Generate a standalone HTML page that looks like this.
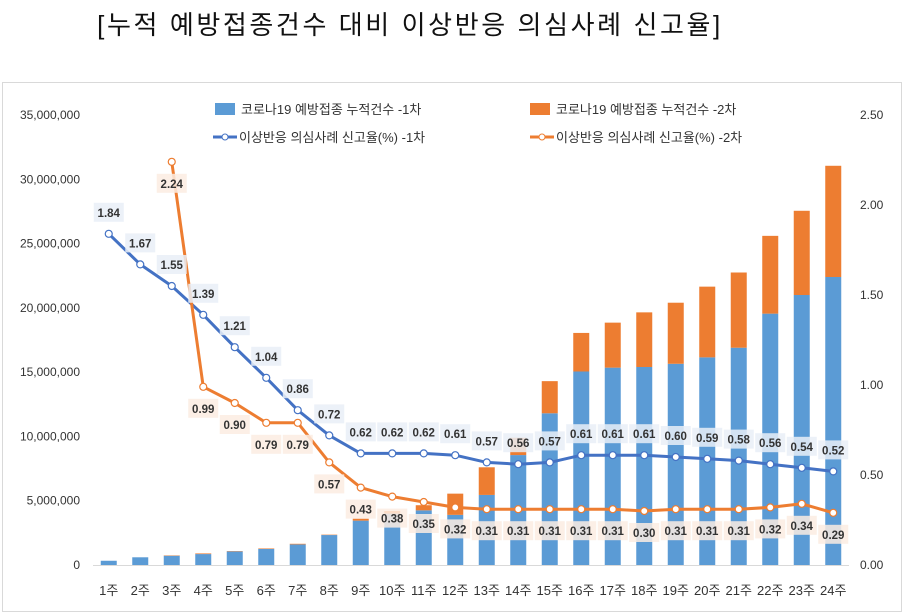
<!DOCTYPE html>
<html><head><meta charset="utf-8">
<style>
body{margin:0;background:#fff;width:905px;height:615px;overflow:hidden;font-family:"Liberation Sans","Noto Sans CJK KR",sans-serif;}
#title{position:absolute;left:0;width:820px;top:5px;text-align:center;font-size:26px;color:#111;font-family:"Liberation Sans","Noto Sans CJK KR",sans-serif;letter-spacing:2.6px;}
#frame{position:absolute;left:2px;top:82px;width:898px;height:528px;border:1.5px solid #d9d9d9;}
svg{position:absolute;left:0;top:0;}
</style></head><body>
<div id="title">[누적 예방접종건수 대비 이상반응 의심사례 신고율]</div>
<div id="frame"></div>
<svg id="chart" width="905" height="615"></svg>
<script>
const categories=["1주","2주","3주","4주","5주","6주","7주","8주","9주","10주","11주","12주","13주","14주","15주","16주","17주","18주","19주","20주","21주","22주","23주","24주"];
const dose1Counts=[330000,600000,720000,850000,1050000,1250000,1600000,2330000,3450000,4000000,4250000,3900000,5450000,8550000,11800000,15050000,15350000,15400000,15650000,16150000,16900000,19550000,21000000,22400000];
const dose2Counts=[0,0,30000,50000,30000,40000,50000,30000,150000,200000,400000,1650000,2150000,1350000,2500000,3000000,3500000,4250000,4750000,5500000,5850000,6050000,6550000,8650000];
const rate1=[1.84,1.67,1.55,1.39,1.21,1.04,0.86,0.72,0.62,0.62,0.62,0.61,0.57,0.56,0.57,0.61,0.61,0.61,0.60,0.59,0.58,0.56,0.54,0.52];
const rate2=[null,null,2.24,0.99,0.90,0.79,0.79,0.57,0.43,0.38,0.35,0.32,0.31,0.31,0.31,0.31,0.31,0.30,0.31,0.31,0.31,0.32,0.34,0.29];
const leftTicks=[0,5000000,10000000,15000000,20000000,25000000,30000000,35000000];
const rightTicks=[0,0.5,1.0,1.5,2.0,2.5];

const NS="http://www.w3.org/2000/svg";
const svg=document.getElementById('chart');
const X0=93,X1=849,Y0=565,Y1=115;
const band=(X1-X0)/categories.length;
const xc=i=>X0+band*(i+0.5);
const yL=v=>Y0-(v/35000000)*(Y0-Y1);
const yR=v=>Y0-(v/2.5)*(Y0-Y1);
function mk(tag,attrs,parent){const e=document.createElementNS(NS,tag);for(const k in attrs)e.setAttribute(k,attrs[k]);(parent||svg).appendChild(e);return e;}

leftTicks.forEach(v=>{
  const t=mk('text',{x:80,y:yL(v)+4,'text-anchor':'end','font-size':12,fill:'#333'});
  t.textContent=v===0?'0':v.toLocaleString('en-US');
  
  
});
rightTicks.forEach(v=>{
  const t=mk('text',{x:860,y:yR(v)+4,'font-size':12,fill:'#333'});
  t.textContent=v.toFixed(2);
  
  
});
const axis=mk('line',{x1:X0,x2:X1,y1:Y0+0.5,y2:Y0+0.5,stroke:'#d9d9d9','stroke-width':1});



categories.forEach((c,i)=>{
  const t=mk('text',{x:xc(i),y:595,'text-anchor':'middle','font-size':13,fill:'#333'});
  t.textContent=c;
  
  
  const bw=16;
  const b1=mk('rect',{x:xc(i)-bw/2,y:yL(dose1Counts[i]),width:bw,height:Y0-yL(dose1Counts[i]),fill:'#5b9bd5'});
  
  
  if(dose2Counts[i]>0){
    const top=yL(dose1Counts[i]+dose2Counts[i]);
    const b2=mk('rect',{x:xc(i)-bw/2,y:top,width:bw,height:yL(dose1Counts[i])-top,fill:'#ed7d31'});
    
    
  }
});

function line(vals,color,name){
  let d='';vals.forEach((v,i)=>{if(v==null)return;d+=(d?'L':'M')+xc(i)+','+yR(v);});
  const p=mk('path',{d:d,fill:'none',stroke:color,'stroke-width':3,'stroke-linejoin':'round'});
  
  
  vals.forEach((v,i)=>{if(v==null)return;
    const c=mk('circle',{cx:xc(i),cy:yR(v),r:3.5,fill:'#fff',stroke:color,'stroke-width':1.2});
    
    
  });
}
line(rate1,'#4472c4','rate-line-dose1');
line(rate2,'#ed7d31','rate-line-dose2');

function label(x,y,txt,bg,name){
  const r=mk('rect',{x:x-15,y:y-10,width:30,height:19,fill:bg,opacity:0.85});
  
  
  const t=mk('text',{x:x,y:y+4,'text-anchor':'middle','font-size':11.5,'font-weight':'bold',fill:'#333'});
  t.textContent=txt;
  
  
}
rate1.forEach((v,i)=>label(xc(i),yR(v)-21,v.toFixed(2),'#e9eef7','rate-label-dose1'));
rate2.forEach((v,i)=>{if(v==null)return;
  label(xc(i),yR(v)+22,v.toFixed(2),'#fbece2','rate-label-dose2');
});

const leg=[
 {x:215,y:109,type:'box',color:'#5b9bd5',text:'코로나19 예방접종 누적건수 -1차'},
 {x:530,y:109,type:'box',color:'#ed7d31',text:'코로나19 예방접종 누적건수 -2차'},
 {x:213,y:137,type:'line',color:'#4472c4',text:'이상반응 의심사례 신고율(%) -1차'},
 {x:530,y:137,type:'line',color:'#ed7d31',text:'이상반응 의심사례 신고율(%) -2차'}];
leg.forEach(l=>{
  const g=mk('g',{});
  
  
  if(l.type==='box')mk('rect',{x:l.x,y:l.y-6,width:20,height:12,fill:l.color},g);
  else{mk('line',{x1:l.x,x2:l.x+24,y1:l.y,y2:l.y,stroke:l.color,'stroke-width':3},g);
       mk('circle',{cx:l.x+12,cy:l.y,r:3,fill:'#fff',stroke:l.color},g);}
  const t=mk('text',{x:l.x+26,y:l.y+5,'font-size':13,fill:'#333'},g);
  t.textContent=l.text;
});
</script>
</body></html>
